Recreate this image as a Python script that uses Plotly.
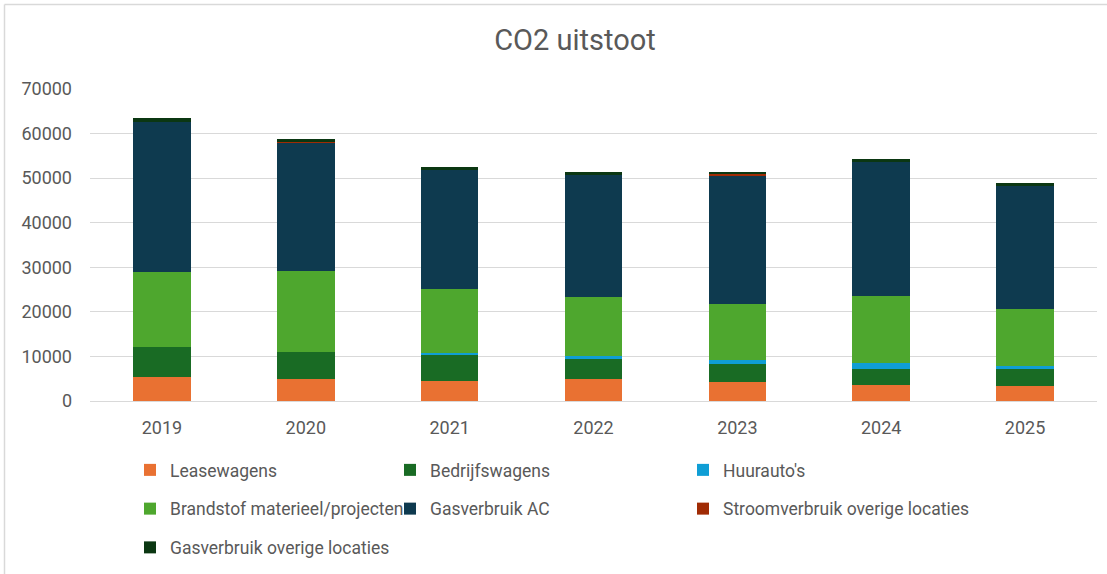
import plotly.graph_objects as go

years = ["2019", "2020", "2021", "2022", "2023", "2024", "2025"]
leasewagens = [5300, 4870, 4560, 5000, 4330, 3590, 3360]
bedrijfswagens = [6750, 6190, 5750, 4330, 3890, 3660, 3740]
huurautos = [0, 0, 520, 820, 970, 1200, 820]
brandstof = [16800, 18020, 14280, 13230, 12490, 15090, 12710]
gasverbruik_ac = [33750, 28840, 26680, 27280, 28990, 30120, 27650]
stroom_overig = [0, 300, 0, 0, 380, 0, 0]
gas_overig = [900, 500, 600, 750, 370, 670, 530]

series = [
    ("Leasewagens", leasewagens, "#E97132", "legend"),
    ("Bedrijfswagens", bedrijfswagens, "#196B24", "legend2"),
    ("Huurauto's", huurautos, "#0F9ED5", "legend3"),
    ("Brandstof materieel/projecten", brandstof, "#4EA72E", "legend"),
    ("Gasverbruik AC", gasverbruik_ac, "#0E3A4F", "legend2"),
    ("Stroomverbruik overige locaties", stroom_overig, "#A02B04", "legend3"),
    ("Gasverbruik overige locaties", gas_overig, "#0B3712", "legend"),
]

FONT = "Roboto, Arial, sans-serif"
GRAY = "#595959"

fig = go.Figure()
for i, (name, vals, color, lg) in enumerate(series):
    fig.add_trace(go.Bar(
        x=years, y=vals, name=name, marker=dict(color=color, line=dict(width=0)),
        legend=lg, legendgroup=name,
    ))

W, H = 1107, 574
ml, mr, mt, mb = 90, 10, 89, 173
pw = W - ml - mr
ph = H - mt - mb

def px_x(p):
    return (p - ml) / pw

def px_y(p):
    return (H - mb - p) / ph

def cont_x(p):
    return p / W

def cont_y(p):
    return (H - p) / H

legend_common = dict(
    orientation="v", yanchor="top", xanchor="left", xref="container", yref="container",
    font=dict(family=FONT, size=17.5, color=GRAY),
    bgcolor="rgba(0,0,0,0)", tracegroupgap=13, itemwidth=30,
    traceorder="grouped",
)

fig.update_layout(
    width=W, height=H,
    margin=dict(l=ml, r=mr, t=mt, b=mb, autoexpand=False),
    paper_bgcolor="white", plot_bgcolor="white",
    barmode="stack", bargap=0.6,
    title=dict(text="CO2 uitstoot", x=px_x(575), xanchor="center", xref="paper",
               y=1 - 40 / H, yanchor="middle",
               font=dict(family=FONT, size=29, color=GRAY)),
    font=dict(family=FONT, color=GRAY),
    xaxis=dict(showgrid=False, showline=True, linecolor="#D9D9D9", linewidth=1,
               tickfont=dict(family=FONT, size=18, color=GRAY), ticks="",
               ticklabelstandoff=10),
    yaxis=dict(range=[0, 70000], dtick=10000, tickformat="d", showgrid=True,
               gridcolor="#D9D9D9", gridwidth=1, zeroline=False, showline=False,
               tickfont=dict(family=FONT, size=18, color=GRAY), ticks="",
               ticklabelstandoff=17),
    legend=dict(x=cont_x(130), y=cont_y(452), **legend_common),
    legend2=dict(x=cont_x(390), y=cont_y(452), **legend_common),
    legend3=dict(x=cont_x(683), y=cont_y(452), **legend_common),
    showlegend=True,
)

# outer chart border (left and top visible)
fig.add_shape(type="line", xref="paper", yref="paper",
              x0=px_x(4.5), x1=px_x(1107), y0=px_y(4.5), y1=px_y(4.5),
              line=dict(color="#D9D9D9", width=1.5))
fig.add_shape(type="line", xref="paper", yref="paper",
              x0=px_x(4.5), x1=px_x(4.5), y0=px_y(4.5), y1=px_y(574),
              line=dict(color="#D9D9D9", width=1.5))

fig.write_html("out.html", config={"displayModeBar": False},
               post_script="document.body.style.margin='0px';document.body.style.overflow='hidden';")
